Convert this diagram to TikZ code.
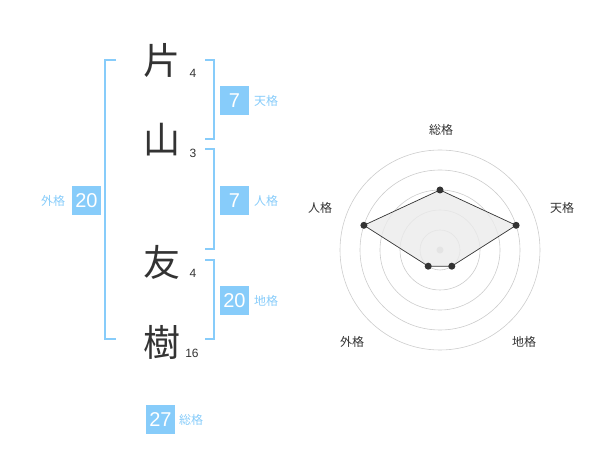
\documentclass[tikz,border=0pt]{standalone}
\usepackage{fontspec}
\setmainfont{Liberation Sans}
\newfontfamily\jp{Noto Sans CJK JP}
\definecolor{skyb}{RGB}{135,204,250}
\definecolor{ink}{RGB}{51,51,51}
\definecolor{ring}{RGB}{204,204,204}
\begin{document}
\begin{tikzpicture}[x=1pt,y=-1pt,
  kanji/.style={font=\jp\fontsize{37}{37}\selectfont, text=ink, inner sep=0pt},
  strokes/.style={font=\fontsize{12}{12}\selectfont, text=ink, inner sep=0pt},
  numbox/.style={fill=skyb, text=white, minimum width=29pt, minimum height=29pt, inner sep=0pt, font=\fontsize{20}{20}\selectfont},
  kaku/.style={text=skyb, font=\jp\fontsize{12}{12}\selectfont, inner sep=0pt},
  brk/.style={draw=skyb, line width=1.5pt},
  axislbl/.style={text=ink, font=\jp\fontsize{12}{12}\selectfont, inner sep=0pt},
  dot/.style={circle, fill=ink, inner sep=0pt, minimum size=7pt}]
\useasboundingbox (0,0) rectangle (600,470);
% name characters
\node[kanji] (c1) at (162,60) {片};
\node[kanji] (c2) at (162,140) {山};
\node[kanji] (c3) at (162,262) {友};
\node[kanji] (c4) at (162,342) {樹};
\node[strokes] (s1) at (193,73) {4};
\node[strokes] (s2) at (193,153) {3};
\node[strokes] (s3) at (193,273) {4};
\node[strokes] (s4) at (192,353) {16};
% brackets
\draw[brk] (116,60) -- (105,60) -- (105,339) -- (116,339);
\draw[brk] (205,60) -- (214,60) -- (214,139) -- (205,139);
\draw[brk] (205,149) -- (214,149) -- (214,249) -- (205,249);
\draw[brk] (205,260) -- (214,260) -- (214,339) -- (205,339);
% values
\node[numbox] (ten) at (234.5,100.5) {7};
\node[kaku] (tenl) at (266,101) {天格};
\node[numbox] (jin) at (234.5,200.5) {7};
\node[kaku] (jinl) at (266,201) {人格};
\node[numbox] (gai) at (86.5,200.5) {20};
\node[kaku] (gail) at (53,201) {外格};
\node[numbox] (chi) at (234.5,300.5) {20};
\node[kaku] (chil) at (266,301) {地格};
\node[numbox] (sou) at (160.5,419.5) {27};
\node[kaku] (soul) at (191,420) {総格};
% radar
\coordinate (O) at (440,250);
\foreach \r in {20,40,60,80,100} \draw[ring, line width=0.6pt] (O) circle (\r);
\fill[ring] (O) circle (3.5);
\path (O) ++(0,-60) coordinate (pS)
      (O) ++(76.1,-24.7) coordinate (pT)
      (O) ++(11.8,16.2) coordinate (pC)
      (O) ++(-11.8,16.2) coordinate (pG)
      (O) ++(-76.1,-24.7) coordinate (pJ);
\filldraw[fill=black!8, fill opacity=0.8, draw=ink, line width=0.7pt] (pS) -- (pT) -- (pC) -- (pG) -- (pJ) -- cycle;
\foreach \p in {pS,pT,pC,pG,pJ} \node[dot] at (\p) {};
\node[axislbl] (aS) at (441,130) {総格};
\node[axislbl] (aT) at (562,208) {天格};
\node[axislbl] (aJ) at (320,208) {人格};
\node[axislbl] (aG) at (352,342) {外格};
\node[axislbl] (aC) at (524,342) {地格};
\end{tikzpicture}
\end{document}
